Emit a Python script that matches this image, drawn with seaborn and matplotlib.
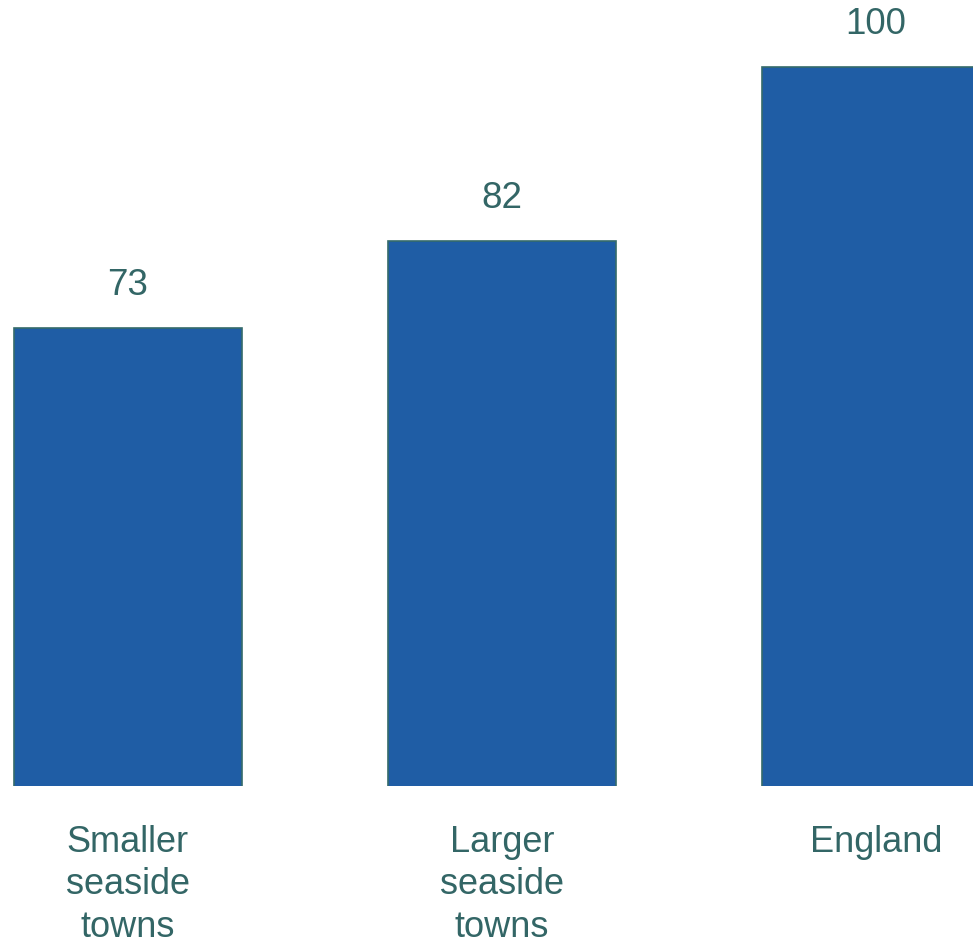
import pandas as pd
import matplotlib.pyplot as plt
import seaborn as sns

# Index values
categories = ['Smaller\nseaside\ntowns', 'Larger\nseaside\ntowns', 'England']
values = [73, 82, 100]

df = pd.DataFrame({'area': categories, 'index': values})

sns.set_style('white')
plt.rcParams['font.family'] = ['Liberation Sans', 'DejaVu Sans']

text_colour = '#336666'

fig = plt.figure(figsize=(9.73, 9.48), dpi=100)
ax = fig.add_axes([0, 0.171, 1, 0.829])

sns.barplot(data=df, x='area', y='index', color='#1F5DA5', saturation=1,
            width=0.61, edgecolor='#356B6B', linewidth=1.2, ax=ax)

ax.set_xlim(-0.342, 2.259)
ax.set_ylim(25.5, 107)

# value labels above bars
ax.bar_label(ax.containers[0], labels=[str(v) for v in values], padding=18,
             fontsize=26.5, color=text_colour)

ax.set_xlabel('')
ax.set_ylabel('')
ax.set_yticks([])
ax.tick_params(axis='x', length=0, pad=28, labelsize=26, labelcolor=text_colour)
for lbl in ax.get_xticklabels():
    lbl.set_linespacing(1.28)
sns.despine(ax=ax, left=True, bottom=True)

plt.savefig('out.png', dpi=100)
plt.close()
